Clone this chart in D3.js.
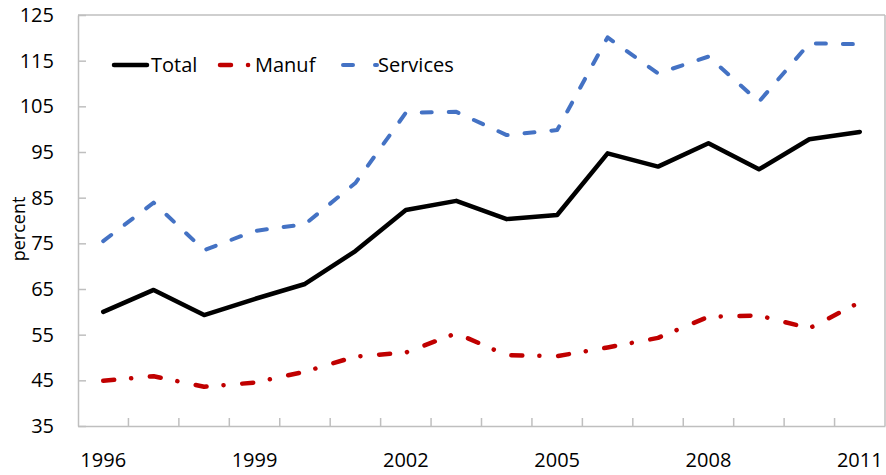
<!DOCTYPE html>
<html>
<head>
<meta charset="utf-8">
<script src="https://cdn.jsdelivr.net/npm/d3@7"></script>
<style>
  html, body { margin: 0; padding: 0; background: #fff; }
  svg { display: block; font-family: "Segoe UI", "Open Sans", "Noto Sans", sans-serif; }
</style>
</head>
<body>
<svg id="chart" width="886" height="475"></svg>
<script>
const years = ["1996","1997","1998","1999","2000","2001","2002","2003","2004","2005","2006","2007","2008","2009","2010","2011"];
const total    = [60.0, 64.8, 59.3, 62.8, 66.1, 73.3, 82.3, 84.3, 80.3, 81.2, 94.7, 91.8, 96.9, 91.2, 97.8, 99.4];
const manuf    = [44.9, 45.9, 43.6, 44.5, 46.9, 50.2, 51.1, 55.3, 50.5, 50.3, 52.2, 54.3, 58.9, 59.2, 56.4, 62.1];
const services = [75.5, 83.9, 73.5, 77.7, 79.2, 88.2, 103.6, 103.8, 98.7, 99.8, 120.1, 112.2, 115.9, 106.0, 118.8, 118.6];
const yTicks = [35, 45, 55, 65, 75, 85, 95, 105, 115, 125];
const xLabels = ["1996","1999","2002","2005","2008","2011"];
const seriesNames = ["Total", "Manuf", "Services"];

(function () {
const svg = d3.select("#chart");
const pLeft = 78, pRight = 885, pTop = 15, pBottom = 426;
const axisColor = "#bfbfbf";

const x = d3.scaleBand().domain(years).range([pLeft, pRight]).padding(0);
const y = d3.scaleLinear().domain([35, 125]).range([pBottom, pTop]);

// plot border (top, right)
svg.append("line").attr("x1", pLeft).attr("x2", pRight).attr("y1", pTop).attr("y2", pTop)
  .attr("stroke", axisColor).attr("stroke-width", 1.5);
svg.append("line").attr("x1", pRight).attr("x2", pRight).attr("y1", pTop).attr("y2", pBottom)
  .attr("stroke", axisColor).attr("stroke-width", 1.5);

// Y axis
const yAxis = d3.axisLeft(y).tickValues(yTicks).tickSizeInner(-8).tickSizeOuter(0).tickPadding(24);
const gy = svg.append("g").attr("transform", `translate(${pLeft},0)`).call(yAxis);
gy.select(".domain").attr("stroke", axisColor).attr("stroke-width", 1.5);
gy.selectAll(".tick line").attr("stroke", axisColor).attr("stroke-width", 1.5);
gy.selectAll(".tick text").attr("font-size", 20).attr("fill", "#000")
  .attr("font-family", '"Segoe UI", "Open Sans", sans-serif');

// X axis labels
const xAxis = d3.axisBottom(x).tickValues(xLabels).tickSize(0).tickPadding(27);
const gx = svg.append("g").attr("transform", `translate(0,${pBottom})`).call(xAxis);
gx.select(".domain").attr("stroke", axisColor).attr("stroke-width", 1.5);
gx.selectAll(".tick text").attr("font-size", 20).attr("fill", "#000")
  .attr("font-family", '"Segoe UI", "Open Sans", sans-serif');
// X tick marks at category boundaries (inside)
const boundaries = years.map(d => x(d)).concat([x(years[years.length-1]) + x.bandwidth()]);
svg.append("g").selectAll("line").data(boundaries.slice(1, -1)).join("line")
  .attr("x1", d => d).attr("x2", d => d).attr("y1", pBottom).attr("y2", pBottom - 8)
  .attr("stroke", axisColor).attr("stroke-width", 1.5);

// Y title
svg.append("text").attr("transform", "translate(25,229) rotate(-90)")
  .attr("text-anchor", "middle").attr("font-size", 18).attr("fill", "#000")
  .text("percent");

const cx = d => x(d) + x.bandwidth() / 2;
const line = d3.line().x((d, i) => cx(years[i])).y(d => y(d));

const styles = [
  { name: seriesNames[0], data: total, color: "#000000", dash: null, width: 4.5 },
  { name: seriesNames[1], data: manuf, color: "#C00000", dash: "11,17,0.1,18.7", width: 4.5 },
  { name: seriesNames[2], data: services, color: "#4472C4", dash: "10,17", width: 4 }
];

[styles[2], styles[1], styles[0]].forEach(s => {
  svg.append("path").datum(s.data).attr("d", line)
    .attr("fill", "none").attr("stroke", s.color).attr("stroke-width", s.width)
    .attr("stroke-linecap", "round").attr("stroke-linejoin", "round")
    .attr("stroke-dasharray", s.dash);
});

// legend
const legendItems = [
  { s: styles[0], x0: 114, x1: 147, tx: 151, dash: null },
  { s: styles[1], x0: 220, x1: 252, tx: 255, dash: "11,17,0.1,40" },
  { s: styles[2], x0: 343, x1: 377, tx: 378, dash: "10,22" }
];
const ly = 65;
legendItems.forEach(it => {
  svg.append("line").attr("x1", it.x0).attr("x2", it.x1).attr("y1", ly).attr("y2", ly)
    .attr("stroke", it.s.color).attr("stroke-width", it.s.width)
    .attr("stroke-linecap", "round")
    .attr("stroke-dasharray", it.dash);
  svg.append("text").attr("x", it.tx).attr("y", ly).attr("dy", "0.35em")
    .attr("font-size", 20).attr("fill", "#000").text(it.s.name);
});
})();
</script>
</body>
</html>
